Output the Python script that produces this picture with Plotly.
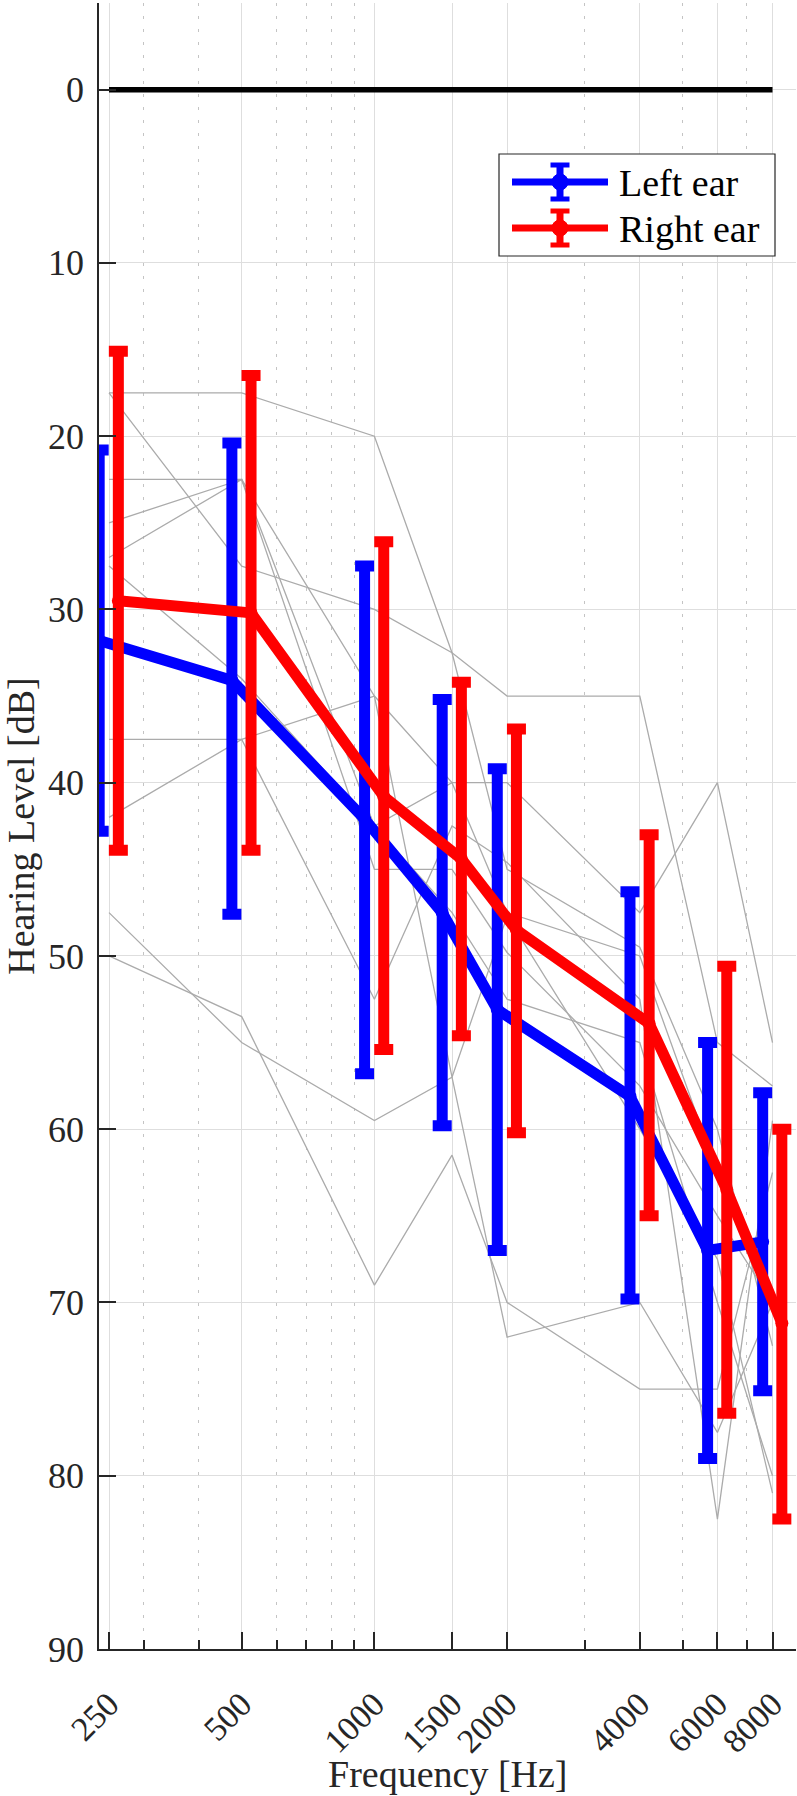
import math
import plotly.graph_objects as go

# ---------------- data ----------------
freqs = [250, 500, 1000, 1500, 2000, 4000, 6000, 8000]
tick_labels = ["250", "500", "1000", "1500", "2000", "4000", "6000", "8000"]
minor_ticks = [300, 400, 600, 700, 800, 900, 3000, 5000, 7000, 9000]
y_ticks = [0, 10, 20, 30, 40, 50, 60, 70, 80, 90]

reference_level = [0, 0]

left_mean = [31.8, 34.1, 42.1, 47.5, 53.1, 58.1, 67.0, 66.5]
left_top = [20.8, 20.4, 27.5, 35.2, 39.2, 46.3, 55.0, 57.9]
left_bottom = [42.8, 47.6, 56.8, 59.8, 67.0, 69.8, 79.0, 75.1]

right_mean = [29.5, 30.2, 40.8, 44.4, 48.5, 53.9, 63.5, 71.2]
right_top = [15.1, 16.5, 26.1, 34.2, 36.9, 43.0, 50.6, 60.0]
right_bottom = [43.9, 43.9, 55.4, 54.6, 60.2, 65.0, 76.4, 82.5]

# individual audiograms (thin grey lines)
subj_01 = [17.5, 17.5, 20.0, 32.5, 45.0, 49.5, 60.0, 72.5]
subj_02 = [17.5, 27.5, 30.0, 32.5, 35.0, 35.0, 55.0, 57.5]
subj_03 = [22.5, 22.5, 35.0, 40.0, 40.0, 47.5, 40.0, 55.0]
subj_04 = [25.0, 22.5, 42.5, 40.0, 47.5, 50.0, 62.5, 70.0]
subj_05 = [27.0, 22.5, 45.0, 45.0, 49.8, 57.5, 65.0, 70.0]
subj_06 = [27.5, 34.0, 42.5, 47.5, 52.5, 55.0, 70.0, 80.0]
subj_07 = [37.5, 37.5, 52.5, 42.5, 44.6, 52.5, 82.5, 59.5]
subj_08 = [42.0, 37.5, 35.0, 57.0, 47.7, 60.0, 67.5, 81.0]
subj_09 = [47.5, 55.0, 59.5, 57.0, 72.0, 70.0, 77.5, 70.0]
subj_10 = [50.0, 53.5, 69.0, 61.5, 70.0, 75.0, 75.0, 62.5]
subjects = [subj_01, subj_02, subj_03, subj_04, subj_05,
            subj_06, subj_07, subj_08, subj_09, subj_10]

# ---------------- style / layout constants ----------------
W, H = 797, 1796
L, R, T, B = 99, 1, 3, 147
PW, PH = W - L - R, H - T - B
AX = "#262626"
SERIF = "Liberation Serif, Times New Roman, serif"
BLUE = "rgb(0,0,255)"
RED = "rgb(255,0,0)"
left_shift, right_shift = 0.95, 1.05

fig = go.Figure()

for s in subjects:
    fig.add_trace(go.Scatter(x=freqs, y=s, mode="lines",
                             line=dict(color="#ababab", width=1.3),
                             showlegend=False, hoverinfo="skip"))

fig.add_trace(go.Scatter(x=[freqs[0], freqs[-1]], y=reference_level, mode="lines",
                         line=dict(color="black", width=5.5), showlegend=False))


def add_series(mean, top, bottom, shift, color, name):
    fig.add_trace(go.Scatter(
        x=[f * shift for f in freqs], y=mean, mode="lines+markers", name=name,
        line=dict(color=color, width=11),
        marker=dict(color=color, size=13, symbol="circle"),
        error_y=dict(type="data", symmetric=False,
                     array=[b - m for b, m in zip(bottom, mean)],
                     arrayminus=[m - t for m, t in zip(mean, top)],
                     color=color, thickness=11, width=9.5),
        showlegend=False))


add_series(left_mean, left_top, left_bottom, left_shift, BLUE, "Left ear")
add_series(right_mean, right_top, right_bottom, right_shift, RED, "Right ear")


# ---------------- manual legend ----------------
def px(x):
    return (x - L) / PW


def py(y):
    return (H - B - y) / PH


shapes = [dict(type="rect", xref="paper", yref="paper",
               x0=px(499), x1=px(775), y0=py(256), y1=py(154),
               line=dict(color=AX, width=1.2), fillcolor="white", layer="above")]
annotations = []
for name, color, yc in [("Left ear", BLUE, 182), ("Right ear", RED, 228)]:
    xc = 560
    shapes.append(dict(type="line", xref="paper", yref="paper",
                       x0=px(512), x1=px(608), y0=py(yc), y1=py(yc),
                       line=dict(color=color, width=7)))
    shapes.append(dict(type="line", xref="paper", yref="paper",
                       x0=px(xc), x1=px(xc), y0=py(yc - 19), y1=py(yc + 19),
                       line=dict(color=color, width=7)))
    for dy in (-17, 17):
        shapes.append(dict(type="line", xref="paper", yref="paper",
                           x0=px(xc - 9.5), x1=px(xc + 9.5),
                           y0=py(yc + dy), y1=py(yc + dy),
                           line=dict(color=color, width=5)))
    shapes.append(dict(type="circle", xref="paper", yref="paper",
                       x0=px(xc - 8), x1=px(xc + 8), y0=py(yc + 8), y1=py(yc - 8),
                       fillcolor=color, line=dict(color=color, width=1)))
    annotations.append(dict(text=name, xref="paper", yref="paper",
                            x=px(617), y=py(yc + 1), xanchor="left", yanchor="middle",
                            showarrow=False,
                            font=dict(family=SERIF, size=38, color="black")))

# x-axis title (placed as annotation so it stays inside the page)
annotations.append(dict(text="Frequency [Hz]", xref="paper", yref="paper",
                        x=0.5, y=py(1774), xanchor="center", yanchor="middle",
                        showarrow=False,
                        font=dict(family=SERIF, size=38, color=AX)))

x_lo = 250 * 2 ** (-10 / 132.7)
x_hi = 250 * 2 ** ((W - R - L - 10) / 132.7)

fig.update_layout(
    width=W, height=H,
    margin=dict(l=L, r=R, t=T, b=B, autoexpand=False),
    paper_bgcolor="white", plot_bgcolor="white",
    showlegend=False,
    shapes=shapes, annotations=annotations,
    xaxis=dict(
        type="log", range=[math.log10(x_lo), math.log10(x_hi)],
        tickmode="array", tickvals=freqs, ticktext=tick_labels, tickangle=-45,
        ticks="inside", ticklen=17, tickwidth=1.5, tickcolor=AX,
        showline=True, linecolor=AX, linewidth=1.5, mirror=False,
        showgrid=True, gridcolor="#dedede", gridwidth=1.2, zeroline=False,
        minor=dict(tickmode="array", tickvals=minor_ticks, ticks="inside",
                   ticklen=9, tickwidth=1.5, tickcolor=AX,
                   showgrid=True, gridcolor="#c4c4c4", griddash="3px,10px",
                   gridwidth=1.2),
        tickfont=dict(family=SERIF, size=34, color=AX),
        ticklabelstandoff=20,
        automargin=False,
    ),
    yaxis=dict(
        range=[90, -5], tickmode="array", tickvals=y_ticks,
        ticktext=[str(v) for v in y_ticks],
        ticks="inside", ticklen=17, tickwidth=1.5, tickcolor=AX,
        showline=True, linecolor=AX, linewidth=1.5, mirror=False,
        showgrid=True, gridcolor="#dedede", gridwidth=1.2, zeroline=False,
        tickfont=dict(family=SERIF, size=36, color=AX),
        ticklabelstandoff=6,
        title=dict(text="Hearing Level [dB]", standoff=22,
                   font=dict(family=SERIF, size=38, color=AX)),
        automargin=False,
    ),
)

fig.write_html("out.html",
               config={"displayModeBar": False},
               post_script="document.body.style.margin='0';"
                           "document.body.style.padding='0';"
                           "document.body.style.overflow='hidden';")
